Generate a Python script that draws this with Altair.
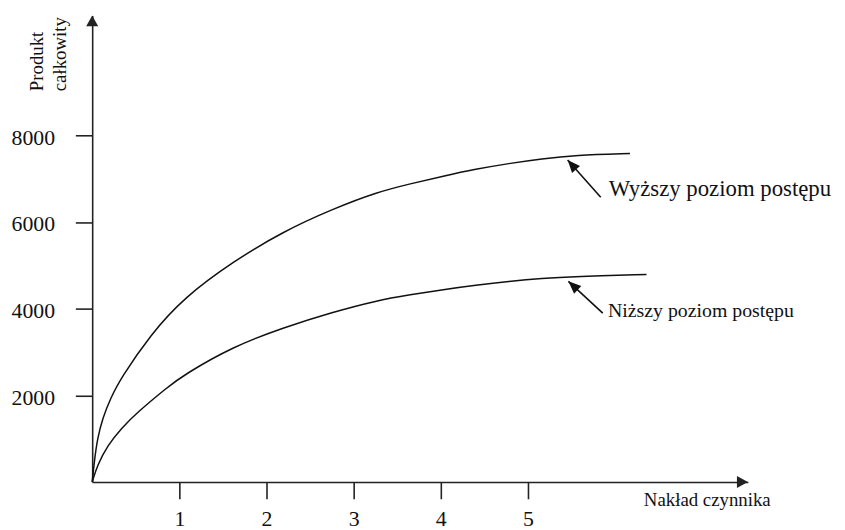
import math
import altair as alt
import pandas as pd

# ---- data ----
upper_x = [0, 0.025, 0.06, 0.12, 0.21, 0.33, 0.67, 1.05, 1.62, 2.19, 2.76, 3.27, 3.65, 4.03, 4.40, 4.78, 5.16, 5.54, 6.17]
upper_y = [0, 480, 1000, 1470, 1930, 2400, 3400, 4250, 5090, 5780, 6300, 6690, 6880, 7060, 7220, 7350, 7460, 7540, 7580]
lower_x = [0, 0.06, 0.18, 0.33, 0.52, 0.86, 1.05, 1.62, 2.19, 2.76, 3.27, 3.65, 4.03, 4.40, 4.78, 5.16, 5.54, 6.36]
lower_y = [0, 390, 850, 1230, 1610, 2180, 2470, 3130, 3560, 3920, 4190, 4320, 4440, 4540, 4630, 4700, 4740, 4790]
series_names = ["Wyższy poziom postępu", "Niższy poziom postępu"]

x_ticks = [1, 2, 3, 4, 5]
y_ticks = [2000, 4000, 6000, 8000]
x_max = 7.523
y_max = 10766

x_title = "Nakład czynnika"
y_title_lines = ["Produkt", "całkowity"]

# annotation pointers (tail -> tip) and label anchors, in data units
ptr_tail_x = [5.835, 5.858]
ptr_tail_y = [6571, 3897]
ptr_tip_x = [5.455, 5.464]
ptr_tip_y = [7429, 4629]
label_x = [5.926, 5.918]
label_y = [6594, 3813]
x_title_pos = (7.057, -551)
y_title_x = [-0.559, -0.302]
y_title_y = [9017, 9017]

# ---- layout ----
W, H = 662, 471
FONT = "Liberation Serif, Times New Roman, serif"
INK = "#111111"
AX = "#222222"
px_x = W / x_max
px_y = H / y_max

xs = alt.Scale(domain=[0, x_max], nice=False, zero=False)
ys = alt.Scale(domain=[0, y_max], nice=False, zero=False)

ax_x = alt.Axis(
    values=x_ticks, title=None, grid=False, domain=True, domainColor=AX, domainWidth=1.6,
    ticks=True, tickSize=17, tickColor=AX, tickWidth=1.6, labelFont=FONT, labelFontSize=22,
    labelColor=INK, labelPadding=10, labelFlush=False, labelOverlap=False, format="d")
ax_y = alt.Axis(
    values=y_ticks, title=None, grid=False, domain=True, domainColor=AX, domainWidth=1.6,
    ticks=True, tickSize=17, tickColor=AX, tickWidth=1.6, labelFont=FONT, labelFontSize=22,
    labelColor=INK, labelPadding=21, labelFlush=False, labelOverlap=False, format="d",
    labelBaseline="middle", labelOffset=2)


def X(f):
    return alt.X(f, scale=xs, axis=ax_x)


def Y(f):
    return alt.Y(f, scale=ys, axis=ax_y)


curves = pd.DataFrame({
    "x": upper_x + lower_x,
    "y": upper_y + lower_y,
    "s": [series_names[0]] * len(upper_x) + [series_names[1]] * len(lower_x),
})

lines = alt.Chart(curves).mark_line(color=INK, strokeWidth=1.5, interpolate="basis").encode(
    x=X("x:Q"), y=Y("y:Q"), detail="s:N",
)

ptr = pd.DataFrame({
    "x": ptr_tail_x, "y": ptr_tail_y, "x2": ptr_tip_x, "y2": ptr_tip_y,
})
ptr["a"] = [
    (math.degrees(math.atan2((tx - sx) * px_x, (ty - sy) * px_y)) % 360)
    for sx, sy, tx, ty in zip(ptr_tail_x, ptr_tail_y, ptr_tip_x, ptr_tip_y)
]

ptr_lines = alt.Chart(ptr).mark_rule(color=INK, strokeWidth=1.6).encode(
    x=X("x:Q"), y=Y("y:Q"), x2="x2:Q", y2="y2:Q",
)
HEAD = "M0,0 L-0.42,1 L0.42,1 Z"
ptr_heads = alt.Chart(ptr).mark_point(shape=HEAD, filled=True, color=INK, opacity=1, size=650).encode(
    x=X("x2:Q"), y=Y("y2:Q"), angle=alt.Angle("a:Q", scale=None),
)

axis_heads_df = pd.DataFrame({"x": [0, x_max], "y": [y_max, 0], "a": [0, 90]})
AXHEAD = "M0,0 L-0.55,1 L0.55,1 Z"
axis_heads = alt.Chart(axis_heads_df).mark_point(shape=AXHEAD, filled=True, color=AX, opacity=1, size=484).encode(
    x=X("x:Q"), y=Y("y:Q"), angle=alt.Angle("a:Q", scale=None),
)

lab_df = pd.DataFrame({"x": label_x, "y": label_y, "t": series_names})
lab_hi = alt.Chart(lab_df.iloc[[0]]).mark_text(font=FONT, fontSize=23, color=INK, align="left", baseline="alphabetic").encode(
    x=X("x:Q"), y=Y("y:Q"), text="t:N")
lab_lo = alt.Chart(lab_df.iloc[[1]]).mark_text(font=FONT, fontSize=20, color=INK, align="left", baseline="alphabetic").encode(
    x=X("x:Q"), y=Y("y:Q"), text="t:N")

xt_df = pd.DataFrame({"x": [x_title_pos[0]], "y": [x_title_pos[1]], "t": [x_title]})
xt = alt.Chart(xt_df).mark_text(font=FONT, fontSize=19, color=INK, align="center", baseline="alphabetic").encode(
    x=X("x:Q"), y=Y("y:Q"), text="t:N")

yt_df = pd.DataFrame({"x": y_title_x, "y": y_title_y, "t": y_title_lines})
yt = alt.Chart(yt_df).mark_text(font=FONT, fontSize=19, color=INK, align="left", baseline="alphabetic", angle=270).encode(
    x=X("x:Q"), y=Y("y:Q"), text="t:N")

chart = alt.layer(lines, ptr_lines, ptr_heads, axis_heads, lab_hi, lab_lo, xt, yt).properties(
    width=W, height=H,
    padding={"left": 85, "top": 5, "right": 90, "bottom": 46},
    autosize=alt.AutoSizeParams(type="none"),
    background="white",
).configure_view(stroke=None)

chart.save("out.html", embed_options={"renderer": "svg", "actions": False})
